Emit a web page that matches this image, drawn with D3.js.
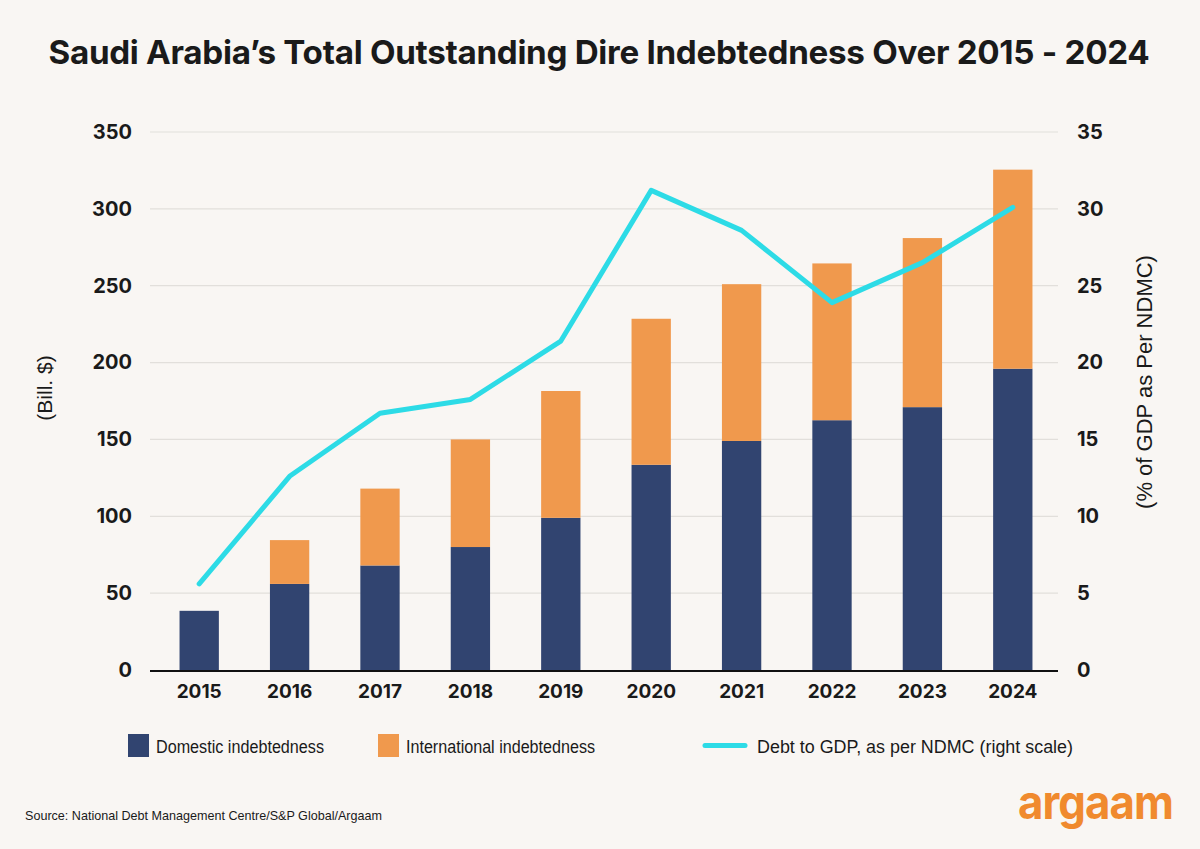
<!DOCTYPE html>
<meta charset="utf-8" />
<style>
  body { margin: 0; background: #f9f6f3; }
  svg { display: block; font-family: Inter, "Noto Sans", sans-serif; }
</style>
<body>
<div id="chart"></div>
<script src="https://cdn.jsdelivr.net/npm/d3@7/dist/d3.min.js"></script>
<script>
  // data
  var years = ["2015", "2016", "2017", "2018", "2019", "2020", "2021", "2022", "2023", "2024"];
  var domestic = [38.5, 56, 68, 80, 99, 133.5, 149, 162.5, 171, 196];
  var international = [0, 28.5, 50, 70, 82.5, 95, 102, 102, 110, 129.5];
  var debtToGdp = [5.6, 12.6, 16.7, 17.6, 21.4, 31.2, 28.6, 23.9, 26.5, 30.1];
  var leftTicks = [0, 50, 100, 150, 200, 250, 300, 350];
  var rightTicks = [0, 5, 10, 15, 20, 25, 30, 35];

  var navy = "#314470", orange = "#f0994d", cyan = "#2ddbe6";
  var plainFont = "'Liberation Sans', Arial, sans-serif";

  var svg = d3.select("#chart").append("svg")
    .attr("width", 1200).attr("height", 849);

  svg.append("rect").attr("width", 1200).attr("height", 849).attr("fill", "#f9f6f3");

  var x = d3.scaleBand().domain(years).range([154, 1058])
    .paddingInner(0.565).paddingOuter(0.2825);
  var y = d3.scaleLinear().domain([0, 350]).range([670, 132]);
  var y2 = d3.scaleLinear().domain([0, 35]).range([670, 132]);

  // title
  svg.append("text")
    .attr("x", 599).attr("y", 64).attr("text-anchor", "middle")
    .attr("font-size", 33.2).attr("font-weight", 700).attr("fill", "#1a1a1a")
    .attr("letter-spacing", -0.3)
    .text("Saudi Arabia\u2019s Total Outstanding Dire Indebtedness Over 2015 - 2024");

  // grid
  svg.append("g").selectAll("line").data(leftTicks.slice(1)).enter().append("line")
    .attr("x1", 150).attr("x2", 1058)
    .attr("y1", d => y(d)).attr("y2", d => y(d))
    .attr("stroke", "#e2dfdb").attr("stroke-width", 1.2);

  // left axis
  var leftAxis = svg.append("g").attr("transform", "translate(150,0)")
    .call(d3.axisLeft(y).tickValues(leftTicks).tickSize(0).tickPadding(18));
  leftAxis.select(".domain").remove();
  leftAxis.selectAll("text").attr("font-size", 20).attr("font-weight", 700)
    .attr("fill", "#1a1a1a").attr("font-family", "Inter, sans-serif");

  // right axis
  var rightAxis = svg.append("g").attr("transform", "translate(1058,0)")
    .call(d3.axisRight(y2).tickValues(rightTicks).tickSize(0).tickPadding(19));
  rightAxis.select(".domain").remove();
  rightAxis.selectAll("text").attr("font-size", 20).attr("font-weight", 700)
    .attr("fill", "#1a1a1a").attr("font-family", "Inter, sans-serif");

  // bars
  var bars = svg.append("g");
  bars.selectAll(".dom").data(years).enter().append("rect")
    .attr("x", d => x(d)).attr("width", x.bandwidth())
    .attr("y", (d, i) => y(domestic[i]))
    .attr("height", (d, i) => y(0) - y(domestic[i]))
    .attr("fill", navy);
  bars.selectAll(".intl").data(years).enter().append("rect")
    .attr("x", d => x(d)).attr("width", x.bandwidth())
    .attr("y", (d, i) => y(domestic[i] + international[i]))
    .attr("height", (d, i) => y(domestic[i]) - y(domestic[i] + international[i]))
    .attr("fill", orange);

  // baseline
  svg.append("line").attr("x1", 150).attr("x2", 1058)
    .attr("y1", y(0) + 1).attr("y2", y(0) + 1)
    .attr("stroke", "#111").attr("stroke-width", 2);

  // x labels
  var xAxis = svg.append("g").attr("transform", "translate(0," + (y(0) + 1) + ")")
    .call(d3.axisBottom(x).tickSize(0).tickPadding(14));
  xAxis.select(".domain").remove();
  xAxis.selectAll("text").attr("font-size", 19).attr("font-weight", 700)
    .attr("fill", "#1a1a1a").attr("font-family", "Inter, sans-serif");

  // line
  var line = d3.line()
    .x((d, i) => x(years[i]) + x.bandwidth() / 2)
    .y(d => y2(d));
  svg.append("path").datum(debtToGdp)
    .attr("d", line).attr("fill", "none")
    .attr("stroke", cyan).attr("stroke-width", 5)
    .attr("stroke-linecap", "round").attr("stroke-linejoin", "round");

  // axis titles
  svg.append("text")
    .attr("transform", "translate(52,388) rotate(-90)")
    .attr("text-anchor", "middle").attr("font-size", 21).attr("fill", "#1a1a1a")
    .attr("font-family", plainFont)
    .text("(Bill. $)");
  svg.append("text")
    .attr("transform", "translate(1152,382) rotate(-90)")
    .attr("text-anchor", "middle").attr("font-size", 22).attr("fill", "#1a1a1a")
    .attr("font-family", plainFont)
    .text("(% of GDP as Per NDMC)");

  // legend
  var leg = svg.append("g").attr("font-size", 17.5).attr("fill", "#1a1a1a")
    .attr("font-family", plainFont);
  leg.append("rect").attr("x", 128).attr("y", 734).attr("width", 21).attr("height", 23).attr("fill", navy);
  leg.append("text").attr("x", 156).attr("y", 753)
    .attr("textLength", 168).attr("lengthAdjust", "spacingAndGlyphs")
    .text("Domestic indebtedness");
  leg.append("rect").attr("x", 378).attr("y", 734).attr("width", 21).attr("height", 23).attr("fill", orange);
  leg.append("text").attr("x", 406).attr("y", 753)
    .attr("textLength", 189).attr("lengthAdjust", "spacingAndGlyphs")
    .text("International indebtedness");
  leg.append("line").attr("x1", 705).attr("x2", 745).attr("y1", 745.5).attr("y2", 745.5)
    .attr("stroke", cyan).attr("stroke-width", 5).attr("stroke-linecap", "round");
  leg.append("text").attr("x", 757).attr("y", 753)
    .attr("textLength", 316).attr("lengthAdjust", "spacingAndGlyphs")
    .text("Debt to GDP, as per NDMC (right scale)");

  // source
  svg.append("text").attr("x", 25).attr("y", 820)
    .attr("font-size", 13.5).attr("fill", "#1a1a1a").attr("font-family", plainFont)
    .attr("textLength", 357).attr("lengthAdjust", "spacingAndGlyphs")
    .text("Source: National Debt Management Centre/S&P Global/Argaam");

  // logo
  svg.append("text").attr("x", 1018).attr("y", 819)
    .attr("textLength", 155).attr("lengthAdjust", "spacingAndGlyphs")
    .attr("font-size", 48).attr("font-weight", 700).attr("fill", "#f08a2e")
    .attr("letter-spacing", -1)
    .text("argaam");
</script>
</body>
